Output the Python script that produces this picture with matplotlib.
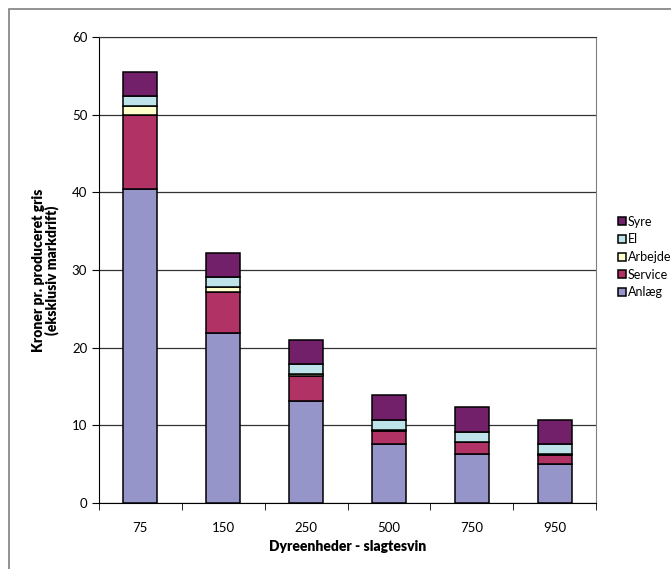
import matplotlib.pyplot as plt
from matplotlib.patches import Rectangle
import numpy as np

categories = ['75', '150', '250', '500', '750', '950']
anlaeg = [40.4, 21.9, 13.1, 7.6, 6.3, 5.0]
service = [9.5, 5.3, 3.2, 1.7, 1.5, 1.2]
arbejde = [1.2, 0.6, 0.3, 0.15, 0.1, 0.1]
el = [1.3, 1.3, 1.3, 1.2, 1.25, 1.25]
syre = [3.1, 3.1, 3.1, 3.2, 3.2, 3.15]

series = [('Anlæg', anlaeg, '#9695c9'),
          ('Service', service, '#b13366'),
          ('Arbejde', arbejde, '#ffffcc'),
          ('El', el, '#bfe3eb'),
          ('Syre', syre, '#73206a')]

plt.rcParams['font.family'] = ['Lato', 'DejaVu Sans']

fig = plt.figure(figsize=(6.71, 5.69), dpi=100)
fig.patches.append(Rectangle((9 / 671, -0.1), 1.2, (569 - 9) / 569 + 0.1,
                             transform=fig.transFigure, fill=False,
                             edgecolor='#7f7f7f', linewidth=1.2))
ax = fig.add_axes([99 / 671, 66 / 569, 497 / 671, 466 / 569])

x = np.arange(len(categories))
bottom = np.zeros(len(categories))
handles = []
for name, vals, col in series:
    b = ax.bar(x, vals, width=0.41, bottom=bottom, color=col,
               edgecolor='black', linewidth=1.1, label=name, zorder=3)
    handles.append(b)
    bottom += np.array(vals)

ax.set_xlim(-0.5, len(categories) - 0.5)
ax.set_ylim(0, 60)
ax.set_yticks(range(0, 61, 10))
ax.yaxis.grid(True, color='#333333', linewidth=0.9, zorder=0)
ax.set_xticks(x)
ax.set_xticklabels(categories, fontsize=9.5)
ax.set_xticks(np.arange(-0.5, len(categories), 1), minor=True)
ax.tick_params(axis='x', which='major', length=0, pad=14)
ax.tick_params(axis='x', which='minor', length=5, direction='out')
ax.tick_params(axis='y', labelsize=9.5, length=5, direction='out')

for s in ['left', 'bottom']:
    ax.spines[s].set_color('black')
ax.spines['top'].set_color('#333333')
ax.spines['right'].set_color('#808080')

ax.set_xlabel('Dyreenheder - slagtesvin', fontsize=10, fontweight='heavy', labelpad=4)
ax.set_ylabel('Kroner pr. produceret gris\n(eksklusiv markdrift)', fontsize=10,
              fontweight='heavy', labelpad=9, linespacing=0.95)

leg = ax.legend(handles[::-1], [s[0] for s in series][::-1],
                loc='center left', bbox_to_anchor=(1.035, 0.528), frameon=False,
                fontsize=9, handlelength=0.6, handleheight=0.6, handletextpad=0.15,
                labelspacing=0.45, borderaxespad=0)

fig.savefig('out.png', dpi=100)
